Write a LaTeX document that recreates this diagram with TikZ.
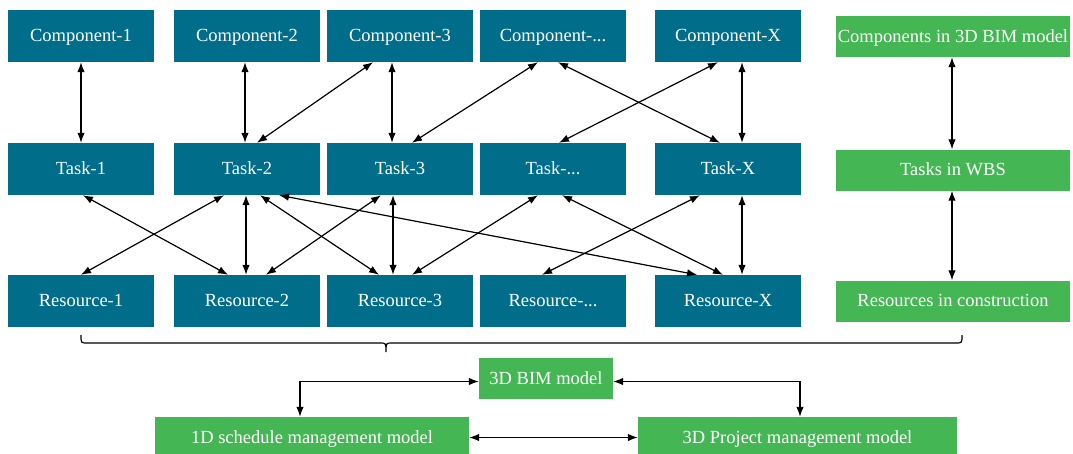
\documentclass[tikz,border=0pt]{standalone}
\usepackage{fontspec}
\setmainfont{Liberation Serif}
\usetikzlibrary{arrows.meta,calc}
\definecolor{boxblue}{RGB}{0,110,138}
\definecolor{boxgreen}{RGB}{68,182,83}

\begin{document}
\begin{tikzpicture}[x=1pt,y=-1pt,
  base/.style={inner sep=0pt, text=white, font=\fontsize{18.5}{21}\selectfont,
    text height=11pt, text depth=0pt, anchor=center},
  bluebox/.style={base, fill=boxblue, minimum width=146pt, minimum height=52pt},
  greenbox/.style={base, fill=boxgreen, minimum height=41pt},
  link/.style={draw=black, line width=1.2pt,
    {Latex[length=10pt,width=7.5pt]}-{Latex[length=10pt,width=7.5pt]}},
  bracket/.style={draw=black, line width=1.2pt},
]
\useasboundingbox (0,0) rectangle (1073,453);

% components
\node[bluebox] (c1) at (81,36)  {Component-1};
\node[bluebox] (c2) at (247,36) {Component-2};
\node[bluebox] (c3) at (400,36) {Component-3};
\node[bluebox] (c4) at (553,36) {Component-...};
\node[bluebox] (c5) at (728,36) {Component-X};
% tasks
\node[bluebox] (t1) at (81,169)  {Task-1};
\node[bluebox] (t2) at (247,169) {Task-2};
\node[bluebox] (t3) at (400,169) {Task-3};
\node[bluebox] (t4) at (553,169) {Task-...};
\node[bluebox] (t5) at (728,169) {Task-X};
% resources
\node[bluebox] (r1) at (81,301)  {Resource-1};
\node[bluebox] (r2) at (247,301) {Resource-2};
\node[bluebox] (r3) at (400,301) {Resource-3};
\node[bluebox] (r4) at (553,301) {Resource-...};
\node[bluebox] (r5) at (728,301) {Resource-X};

% legend column
\node[greenbox, minimum width=234pt] (gc) at (953,36.5) {Components in 3D BIM model};
\node[greenbox, minimum width=234pt] (gt) at (953,170)  {Tasks in WBS};
\node[greenbox, minimum width=234pt] (gr) at (953,301)  {Resources in construction};

% models
\node[greenbox, minimum width=134pt] (bim)   at (546,378.5)   {3D BIM model};
\node[greenbox, minimum width=314pt] (sched) at (312,437.5)   {1D schedule management model};
\node[greenbox, minimum width=319pt] (proj)  at (797.5,437.5) {3D Project management model};

% component <-> task links
\draw[link] (c1.south) -- (t1.north);
\draw[link] ([xshift=-2pt]c2.south) -- ([xshift=-2pt]t2.north);
\draw[link] ([xshift=-27pt]c3.south) -- ([xshift=10pt]t2.north);
\draw[link] ([xshift=-8pt]c3.south) -- ([xshift=-8pt]t3.north);
\draw[link] ([xshift=-15pt]c4.south) -- ([xshift=12pt]t3.north);
\draw[link] ([xshift=5pt]c4.south) -- ([xshift=-8pt]t5.north);
\draw[link] ([xshift=-10pt]c5.south) -- ([xshift=6pt]t4.north);
\draw[link] ([xshift=14pt]c5.south) -- ([xshift=14pt]t5.north);

% task <-> resource links
\draw[link] ([xshift=2pt]t1.south) -- ([xshift=-19pt]r2.north);
\draw[link] ([xshift=-23pt]t2.south) -- (r1.north);
\draw[link] ([xshift=-1pt]t2.south) -- ([xshift=-1pt]r2.north);
\draw[link] ([xshift=13pt]t2.south) -- ([xshift=-21pt]r3.north);
\draw[link] ([xshift=32pt]t2.south) -- ([xshift=-31pt]r5.north);
\draw[link] ([xshift=-19pt]t3.south) -- ([xshift=19pt]r2.north);
\draw[link] ([xshift=-7pt]t3.south) -- ([xshift=-7pt]r3.north);
\draw[link] ([xshift=-15pt]t4.south) -- ([xshift=12pt]r3.north);
\draw[link] ([xshift=9pt]t4.south) -- ([xshift=-5pt]r5.north);
\draw[link] ([xshift=-28pt]t5.south) -- ([xshift=-11pt]r4.north);
\draw[link] ([xshift=14pt]t5.south) -- ([xshift=14pt]r5.north);

% legend links
\draw[link] ([xshift=-1pt]gc.south) -- ([xshift=-1pt]gt.north);
\draw[link] ([xshift=-1pt]gt.south) -- ([xshift=-1pt]gr.north);

% bracket gathering the three layers
\coordinate (bl) at (81,335);
\coordinate (br) at (962,335);
\coordinate (tip) at (386,352);
\draw[bracket] (bl) .. controls (81,343) and (81,343) .. (87,343)
  -- (380,343) .. controls (386,343) and (386,343) .. (tip)
  .. controls (386,343) and (386,343) .. (392,343)
  -- (956,343) .. controls (962,343) and (962,343) .. (br);

% model links
\draw[link] ([yshift=-3pt]bim.west) -| ([xshift=-12pt]sched.north);
\draw[link] ([yshift=-3pt]bim.east) -| ([xshift=2.5pt]proj.north);
\draw[link] (sched.east) -- (proj.west);
\end{tikzpicture}
\end{document}
